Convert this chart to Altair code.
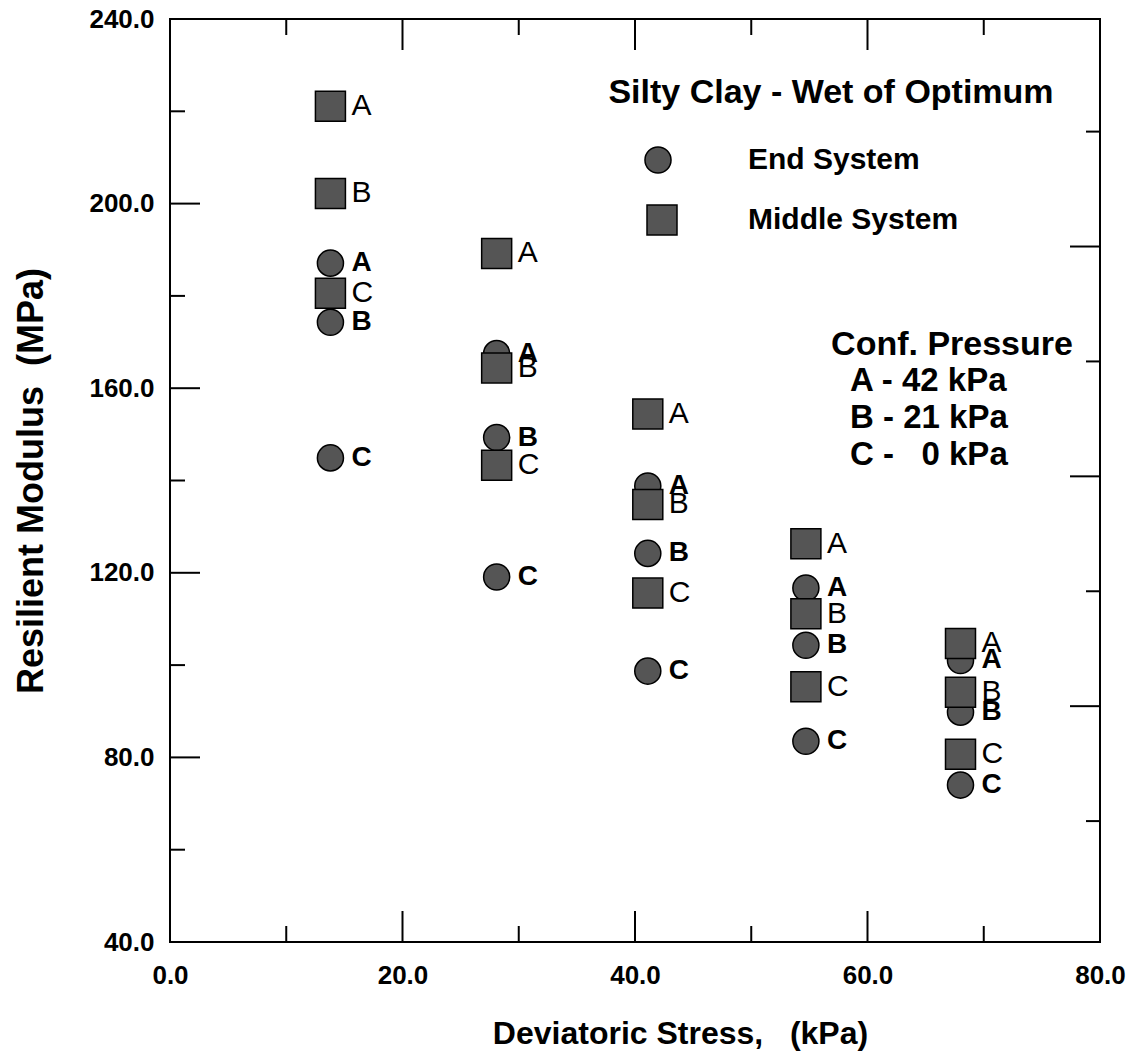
import altair as alt
import pandas as pd

# ---------------- data ----------------
stress_kpa = [13.8, 28.1, 41.1, 54.7, 68.0]

end_A = [187.1, 167.5, 138.8, 116.7, 101.0]
end_B = [174.3, 149.3, 124.2, 104.3, 89.8]
end_C = [144.9, 119.1, 98.7, 83.5, 74.0]

mid_A = [221.1, 189.2, 154.4, 126.3, 104.7]
mid_B = [202.2, 164.4, 134.8, 111.1, 94.1]
mid_C = [180.6, 143.3, 115.6, 95.3, 80.7]

systems = ["End System", "Middle System"]
x_tick_labels = [0, 20, 40, 60, 80]
y_tick_labels = [40, 80, 120, 160, 200, 240]
x_major_ticks = [20, 40, 60]
x_minor_ticks = [10, 30, 50, 70]
y_major_ticks = [80, 120, 160, 200]
y_minor_ticks = [60, 100, 140, 180, 220]
right_long_ticks = [190.7, 140.9, 91.1]
right_short_ticks = [215.6, 165.8, 116.0, 66.2]

title_text = "Silty Clay - Wet of Optimum"
conf_title = "Conf. Pressure"
conf_lines = ["A - 42 kPa", "B - 21 kPa", "C -\u00a0\u00a0\u00a00 kPa"]

# ---------------- table ----------------
rows = []
for sysname, series in [("End System", {"A": end_A, "B": end_B, "C": end_C}),
                        ("Middle System", {"A": mid_A, "B": mid_B, "C": mid_C})]:
    for lev, vals in series.items():
        for xv, yv in zip(stress_kpa, vals):
            rows.append({"stress": xv, "modulus": yv, "system": sysname, "level": lev})
df = pd.DataFrame(rows)

W, H = 930, 923
FONT = "Liberation Sans"
FILL = "#555555"

xs = alt.Scale(domain=[0, 80], nice=False, zero=False)
ys = alt.Scale(domain=[40, 240], nice=False, zero=False)
shape_scale = alt.Scale(domain=systems, range=["circle", "square"])
size_scale = alt.Scale(domain=systems, range=[680, 900])

x_axis = alt.Axis(values=x_tick_labels, format=".1f", labelFont=FONT, labelFontSize=26,
                  labelFontWeight="bold", labelColor="black", labelPadding=20, labelFlush=False,
                  labelOverlap=False, ticks=False, domain=False, grid=False,
                  title="Deviatoric Stress,\u00a0\u00a0\u00a0(kPa)", titleFont=FONT, titleFontSize=32,
                  titleFontWeight="bold", titleColor="black", titlePadding=30, titleX=510)
y_axis = alt.Axis(values=y_tick_labels, format=".1f", labelFont=FONT, labelFontSize=26,
                  labelFontWeight="bold", labelColor="black", labelPadding=16, labelFlush=False,
                  labelOverlap=False, ticks=False, domain=False, grid=False,
                  title="Resilient Modulus\u00a0\u00a0(MPa)", titleFont=FONT, titleFontSize=36,
                  titleFontWeight="bold", titleColor="black", titlePadding=38)

X = alt.X("stress:Q", scale=xs, axis=x_axis)
Y = alt.Y("modulus:Q", scale=ys, axis=y_axis)

points = alt.Chart(df).mark_point(filled=True, fill=FILL, stroke="black", strokeWidth=1.5,
                                  opacity=1).encode(
    x=X, y=Y,
    shape=alt.Shape("system:N", scale=shape_scale, legend=None),
    size=alt.Size("system:N", scale=size_scale, legend=None),
)

labels_sq = alt.Chart(df[df.system == "Middle System"]).mark_text(
    align="left", baseline="middle", dx=21, font=FONT, fontSize=30, fontWeight="normal",
    color="black").encode(x=X, y=Y, text="level:N")
labels_ci = alt.Chart(df[df.system == "End System"]).mark_text(
    align="left", baseline="middle", dx=21, font=FONT, fontSize=28, fontWeight="bold",
    color="black").encode(x=X, y=Y, text="level:N")

def xticks(vals, length):
    d = alt.Chart(pd.DataFrame({"stress": vals}))
    b = d.mark_rule(color="black", strokeWidth=2).encode(x=X, y=alt.value(H), y2=alt.value(H - length))
    t = d.mark_rule(color="black", strokeWidth=2).encode(x=X, y=alt.value(0), y2=alt.value(length))
    return [b, t]

def lticks(vals, length):
    d = alt.Chart(pd.DataFrame({"modulus": vals}))
    return d.mark_rule(color="black", strokeWidth=2).encode(y=Y, x=alt.value(0), x2=alt.value(length))

def rticks(vals, length):
    d = alt.Chart(pd.DataFrame({"modulus": vals}))
    return d.mark_rule(color="black", strokeWidth=2).encode(y=Y, x=alt.value(W), x2=alt.value(W - length))

tick_layers = (xticks(x_major_ticks, 31) + xticks(x_minor_ticks, 16) +
               [lticks(y_major_ticks, 30), lticks(y_minor_ticks, 15),
                rticks(right_long_ticks, 30), rticks(right_short_ticks, 14)])

# ---------------- key (legend) drawn in the upper right ----------------
legend_layers = []
for name, (sx, sy) in zip(systems, [(488, 141), (492, 201)]):
    ld = alt.Chart(pd.DataFrame({"system": [name]}))
    legend_layers.append(
        ld.mark_point(filled=True, fill=FILL, stroke="black", strokeWidth=1.5, opacity=1).encode(
            x=alt.value(sx), y=alt.value(sy),
            shape=alt.Shape("system:N", scale=shape_scale, legend=None),
            size=alt.Size("system:N", scale=size_scale, legend=None)))
    legend_layers.append(
        ld.mark_text(font=FONT, fontSize=30, fontWeight="bold", align="left", baseline="middle",
                     color="black").encode(text="system:N", x=alt.value(578), y=alt.value(sy)))

title_mark = alt.Chart(pd.DataFrame({"t": [title_text]})).mark_text(
    font=FONT, fontSize=34, fontWeight="bold", align="center", baseline="middle", color="black"
).encode(text="t:N", x=alt.value(661), y=alt.value(74))

conf_title_mark = alt.Chart(pd.DataFrame({"t": [conf_title]})).mark_text(
    font=FONT, fontSize=34, fontWeight="bold", align="center", baseline="middle", color="black"
).encode(text="t:N", x=alt.value(782), y=alt.value(326))

conf_marks = [
    alt.Chart(pd.DataFrame({"t": [line]})).mark_text(
        font=FONT, fontSize=33, fontWeight="bold", align="left", baseline="middle", color="black"
    ).encode(text="t:N", x=alt.value(680), y=alt.value(yy))
    for line, yy in zip(conf_lines, [362, 399, 436])
]

chart = alt.layer(
    points, *tick_layers, labels_sq, labels_ci, *legend_layers, title_mark, conf_title_mark,
    *conf_marks
).properties(
    width=W, height=H,
    padding={"left": 162, "top": 11, "right": 26, "bottom": 110},
    autosize=alt.AutoSizeParams(type="none"),
).configure(background="white").configure_view(stroke="black", strokeWidth=2)

chart.save("out.html", embed_options={"renderer": "svg", "actions": False})
